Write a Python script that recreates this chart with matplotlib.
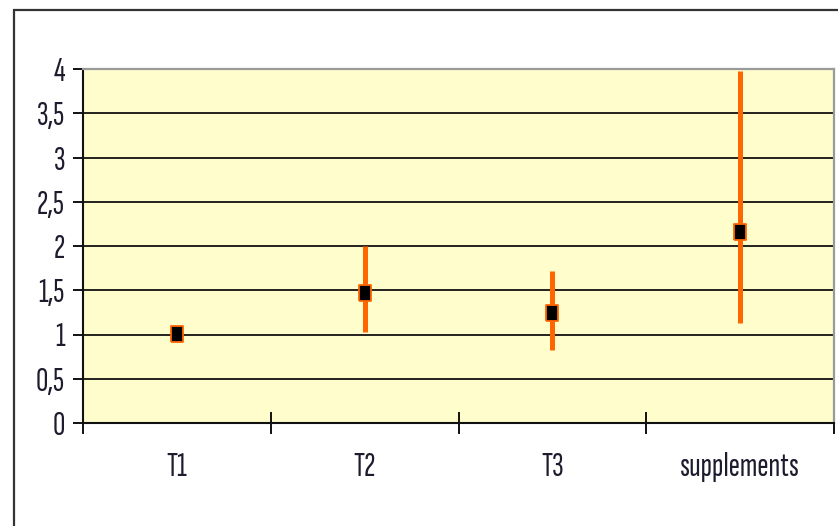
import matplotlib
matplotlib.use("Agg")
import matplotlib.pyplot as plt
from matplotlib.patches import Rectangle
from matplotlib.ticker import FixedLocator, FuncFormatter

categories = ["T1", "T2", "T3", "supplements"]
means = [1.01, 1.47, 1.24, 2.16]
lower = [0.95, 1.03, 0.82, 1.13]
upper = [1.07, 2.00, 1.72, 3.98]
y_ticks = [0, 0.5, 1, 1.5, 2, 2.5, 3, 3.5, 4]

W, H = 838, 526
fig = plt.figure(figsize=(W / 100, H / 100), dpi=100)
fig.patch.set_facecolor("white")

# outer chart frame
fig.patches.append(Rectangle((14 / W, -0.05), 1.2, 1.05 - 10 / H,
                             transform=fig.transFigure, fill=False,
                             edgecolor="#333333", linewidth=1.6))

ax = fig.add_axes([83 / W, (H - 423) / H, (834 - 83) / W, (423 - 69) / H])
ax.set_facecolor("#FFFDCC")

x = list(range(len(categories)))
ax.set_xlim(-0.5, len(categories) - 0.5)
ax.set_ylim(0, 4)

# horizontal grid lines
for yv in y_ticks[1:-1]:
    ax.axhline(yv, color="#111111", linewidth=1.3, zorder=1)

# error ranges and mean markers
ax.vlines(x, lower, upper, colors="#FF6600", linewidth=3.6, zorder=3,
          capstyle="butt")
rect = [(-0.36, -0.5), (0.36, -0.5), (0.36, 0.5), (-0.36, 0.5), (-0.36, -0.5)]
ax.plot(x, means, linestyle="none", marker=rect, markersize=12,
        markerfacecolor="black", markeredgecolor="#FF6600",
        markeredgewidth=1.3, zorder=4)

# spines
for side in ("top", "right"):
    ax.spines[side].set_color("#9a9a9a")
    ax.spines[side].set_linewidth(1.6)
for side in ("left", "bottom"):
    ax.spines[side].set_color("#111111")
    ax.spines[side].set_linewidth(1.5)

font = ["Sofia Sans Extra Condensed", "Pragati Narrow", "DejaVu Sans"]
label_color = "#1c1c2e"

ax.yaxis.set_major_locator(FixedLocator(y_ticks))
ax.yaxis.set_major_formatter(FuncFormatter(
    lambda v, p: ("%g" % v).replace(".", ",")))
ax.tick_params(axis="y", direction="out", length=7, width=1.4,
               color="#111111", pad=6, labelsize=24.5, labelcolor=label_color)

ax.set_xticks(x)
ax.set_xticklabels(categories)
ax.tick_params(axis="x", which="major", length=0, pad=21,
               labelsize=24.5, labelcolor=label_color)
ax.set_xticks([i - 0.5 for i in range(len(categories) + 1)], minor=True)
ax.tick_params(axis="x", which="minor", direction="inout", length=16,
               width=1.4, color="#111111")

for lab in ax.get_xticklabels() + ax.get_yticklabels():
    lab.set_family(font)

fig.savefig("out.png", dpi=100)
